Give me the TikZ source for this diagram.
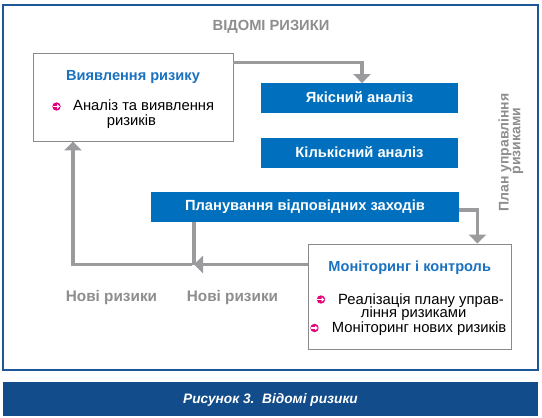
\documentclass[tikz,border=0pt]{standalone}
\usepackage{fontspec}
\setmainfont{Liberation Sans}
\usetikzlibrary{arrows.meta,calc}
\definecolor{frameblue}{HTML}{1D5699}
\definecolor{capblue}{HTML}{124C8A}
\definecolor{boxblue}{HTML}{0070BE}
\definecolor{titleblue}{HTML}{1A72C0}
\definecolor{arrgray}{HTML}{9B9B9D}
\definecolor{txtgray}{HTML}{8E8E90}
\definecolor{bordergray}{HTML}{8A8A8A}
\definecolor{bulletpink}{HTML}{E5007D}
\tikzset{
  whitebox/.style={draw=bordergray, line width=0.9pt, fill=white, inner sep=0},
  bluebox/.style={fill=boxblue, inner sep=0, text=white, font=\bfseries\fontsize{14.7}{16}\selectfont, text height=10.5pt, text depth=3pt},
  boxtitle/.style={inner sep=0, text=titleblue, font=\bfseries\fontsize{14.6}{16}\selectfont},
  body/.style={inner sep=0, text=black, font=\fontsize{14.8}{16}\selectfont},
  bulc/.style={circle, fill=bulletpink, minimum size=8.4pt, inner sep=0},
  graytext/.style={inner sep=0, text=txtgray, font=\bfseries\fontsize{14}{16}\selectfont},
  ln/.style={draw=arrgray, line width=3.4pt},
  arr/.style={ln, -{Triangle[width=17pt,length=9pt]}},
  barrow/.style={draw=white, line width=1.4pt, -{Triangle[width=4.4pt,length=2.6pt]}},
}
\begin{document}
\begin{tikzpicture}[x=1pt,y=-1pt]
\useasboundingbox[fill=white] (0,0) rectangle (542,418);
% frame and caption bar
\node[draw=frameblue, line width=1.5pt, minimum width=535pt, minimum height=365pt, inner sep=0] (frame) at (270.5,187.5) {};
\node[fill=capblue, minimum width=535pt, minimum height=34pt, inner sep=0] (bar) at (270.5,399) {};
\node[inner sep=0, text=white, font=\bfseries\itshape\fontsize{13.7}{15}\selectfont] (cap) at (270.5,399.5) {Рисунок 3.\ \ Відомі ризики};
% title
\node[graytext, font=\bfseries\fontsize{14.7}{16}\selectfont] (known) at (271,26.7) {ВІДОМІ РИЗИКИ};
% left box
\node[whitebox, minimum width=200pt, minimum height=88pt] (lbox) at (133,97) {};
\node[boxtitle, anchor=base] (ltitle) at (133,80) {Виявлення ризику};
\node[bulc] (lb1) at (56.5,106.5) {};
\draw[barrow] ([xshift=-3.6pt]lb1.center) -- ([xshift=3.3pt]lb1.center);
\node[body, anchor=base west] (lt1) at (73,110.7) {Аналіз та виявлення};
\node[body, anchor=base west] (lt2) at (106.7,125) {ризиків};
% blue boxes
\node[bluebox, minimum width=197pt, minimum height=30pt] (yak) at (359.5,98.3) {Якісний аналіз};
\node[bluebox, minimum width=197pt, minimum height=30pt] (kil) at (359.5,153.3) {Кількісний аналіз};
\node[bluebox, minimum width=308pt, minimum height=30pt] (plan) at (305,207) {Планування відповідних заходів};
% right box
\node[whitebox, minimum width=203pt, minimum height=105pt] (mon) at (409.5,296.5) {};
\node[boxtitle, anchor=base] (mtitle) at (409.7,271.7) {Моніторинг і контроль};
\node[bulc] (mb1) at (321,299.5) {};
\draw[barrow] ([xshift=-3.6pt]mb1.center) -- ([xshift=3.3pt]mb1.center);
\node[body, anchor=base west] (mt1) at (338,304) {Реалізація плану управ-};
\node[body, anchor=base west] (mt2) at (360.7,317.3) {ління ризиками};
\node[bulc] (mb2) at (314.5,328) {};
\draw[barrow] ([xshift=-3.6pt]mb2.center) -- ([xshift=3.3pt]mb2.center);
\node[body, anchor=base west] (mt3) at (331.7,332.3) {Моніторинг нових ризиків};
% side text
\node[graytext, rotate=90] (side1) at (505,152.5) {План управління};
\node[graytext, rotate=90] (side2) at (518,141) {ризиками};
% new risks labels
\node[graytext, font=\bfseries\fontsize{15.3}{17}\selectfont] (new1) at (111.5,298) {Нові ризики};
\node[graytext, font=\bfseries\fontsize{15.3}{17}\selectfont] (new2) at (232.5,298) {Нові ризики};
% connectors
\coordinate (j) at (194,264.5);
\draw[arr] ([yshift=-10pt]lbox.north east) -| ([xshift=2.5pt]yak.north);
\draw[arr] ([yshift=-3pt]plan.east) -| ([xshift=-34pt]mon.north east);
\draw[ln] (plan.south -| j) -- (j);
\draw[arr] (mon.west |- j) -- (j);
\draw[arr] ([xshift=-1.7pt]j) -| ([xshift=-60pt]lbox.south);
\end{tikzpicture}
\end{document}
